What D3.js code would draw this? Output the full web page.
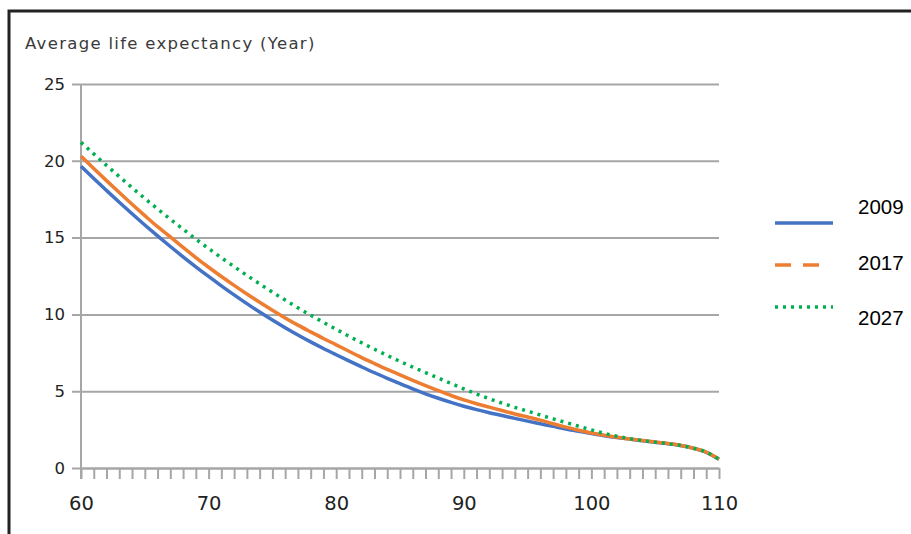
<!DOCTYPE html>
<html>
<head>
<meta charset="utf-8">
<script src="https://cdn.jsdelivr.net/npm/d3@7"></script>
<style>
  body { margin: 0; background: #fff; }
  svg { display: block; }
</style>
</head>
<body>
<div id="chart"></div>
<script>
/**
 * DATA
 * */
const ages = d3.range(60, 111);

const e2009 = [19.65, 18.85, 18.07, 17.30, 16.55, 15.82, 15.11, 14.42, 13.75, 13.10,
  12.47, 11.86, 11.27, 10.70, 10.15, 9.63, 9.13, 8.66, 8.21, 7.78,
  7.37, 6.97, 6.58, 6.20, 5.84, 5.49, 5.15, 4.83, 4.54, 4.27,
  4.02, 3.80, 3.60, 3.42, 3.23, 3.05, 2.88, 2.71, 2.54, 2.39,
  2.24, 2.10, 1.98, 1.88, 1.78, 1.68, 1.58, 1.46, 1.28, 1.02, 0.57];

const e2017 = [20.30, 19.50, 18.71, 17.93, 17.17, 16.43, 15.71, 15.05, 14.36, 13.70,
  13.07, 12.47, 11.89, 11.33, 10.79, 10.27, 9.77, 9.30, 8.86, 8.43,
  8.02, 7.60, 7.19, 6.80, 6.42, 6.06, 5.71, 5.37, 5.04, 4.72,
  4.43, 4.18, 3.96, 3.74, 3.52, 3.32, 3.12, 2.88, 2.66, 2.46,
  2.28, 2.13, 2.00, 1.89, 1.79, 1.69, 1.59, 1.47, 1.29, 1.03, 0.57];

const e2027 = [21.20, 20.45, 19.70, 18.97, 18.25, 17.55, 16.87, 16.20, 15.55, 14.90,
  14.29, 13.69, 13.11, 12.54, 11.99, 11.45, 10.93, 10.43, 9.95, 9.48,
  9.03, 8.58, 8.15, 7.73, 7.33, 6.94, 6.57, 6.21, 5.86, 5.50,
  5.15, 4.82, 4.51, 4.22, 3.95, 3.70, 3.45, 3.20, 2.96, 2.72,
  2.48, 2.26, 2.07, 1.91, 1.78, 1.68, 1.58, 1.46, 1.29, 1.04, 0.57];

const seriesNames = ["2009", "2017", "2027"];
const xTicks = [60, 70, 80, 90, 100, 110];
const yTicks = [0, 5, 10, 15, 20, 25];
const yTitle = "Average life expectancy (Year)";

/**
 * CONSTANTS
 * */
const width = 911,
  height = 534,
  margin = { top: 84, bottom: 66, left: 81, right: 192 };

const colors = ["#4472C4", "#ED7D31", "#00B050"];
const gridColor = "#a6a6a6";

const svg = d3.select("#chart")
  .append("svg")
  .attr("width", width)
  .attr("height", height);

// frame (top and left edges only are visible)
svg.append("path")
  .attr("d", `M9,${height} V11 H${width}`)
  .attr("fill", "none")
  .attr("stroke", "#222")
  .attr("stroke-width", 3);

const x = d3.scaleLinear()
  .domain([60, 110])
  .range([margin.left, width - margin.right]);

const y = d3.scaleLinear()
  .domain([0, 25])
  .range([height - margin.bottom, margin.top]);

// title
svg.append("text")
  .attr("x", 25)
  .attr("y", 49)
  .attr("font-family", "DejaVu Sans, Verdana, sans-serif")
  .attr("font-size", 16.5)
  .attr("letter-spacing", 1.3)
  .attr("fill", "#3a3a3a")
  .text(yTitle);

// gridlines + y ticks
const yAxis = svg.append("g")
  .attr("transform", `translate(${margin.left},0)`)
  .call(d3.axisLeft(y)
    .tickValues(yTicks)
    .tickSize(-(width - margin.left - margin.right))
    .tickSizeOuter(0)
    .tickPadding(16));

yAxis.select(".domain").remove();
yAxis.selectAll(".tick line")
  .attr("x1", -9)
  .attr("stroke", gridColor)
  .attr("stroke-width", 2);
yAxis.selectAll(".tick text")
  .attr("font-family", "DejaVu Sans, Verdana, sans-serif")
  .attr("font-size", 16.5)
  .attr("fill", "#222");

// vertical axis line
svg.append("line")
  .attr("x1", margin.left).attr("x2", margin.left)
  .attr("y1", margin.top).attr("y2", y(0) + 11)
  .attr("stroke", gridColor)
  .attr("stroke-width", 2);

// x axis: minor ticks every year, labels every 10
const xAxis = svg.append("g")
  .attr("transform", `translate(0,${y(0)})`)
  .call(d3.axisBottom(x)
    .tickValues(ages)
    .tickSize(11)
    .tickSizeOuter(0)
    .tickFormat(d => xTicks.includes(d) ? d : ""));

xAxis.select(".domain")
  .attr("stroke", gridColor)
  .attr("stroke-width", 2);
xAxis.selectAll(".tick line")
  .attr("stroke", gridColor)
  .attr("stroke-width", 2);
xAxis.selectAll(".tick text")
  .attr("font-family", "DejaVu Sans, Verdana, sans-serif")
  .attr("font-size", 19.5)
  .attr("fill", "#222")
  .attr("dy", "1.45em");

// lines
const line = d3.line()
  .x((d, i) => x(ages[i]))
  .y(d => y(d))
  .curve(d3.curveMonotoneX);

const allSeries = [e2009, e2017, e2027];

svg.append("g")
  .selectAll("path")
  .data(allSeries)
  .join("path")
  .attr("d", line)
  .attr("fill", "none")
  .attr("stroke", (d, i) => colors[i])
  .attr("stroke-width", 3.5)
  .attr("stroke-dasharray", (d, i) => i === 2 ? "3 5" : null);

// legend
const legend = svg.append("g")
  .selectAll("g")
  .data(seriesNames)
  .join("g");

const legendLineY = [223, 265, 307];
const legendTextY = [207, 263, 318];

legend.append("line")
  .attr("x1", 775)
  .attr("x2", (d, i) => i === 1 ? 820 : 833)
  .attr("y1", (d, i) => legendLineY[i])
  .attr("y2", (d, i) => legendLineY[i])
  .attr("stroke", (d, i) => colors[i])
  .attr("stroke-width", 3.5)
  .attr("stroke-dasharray", (d, i) => i === 1 ? "16 12" : i === 2 ? "3 5" : null);

legend.append("text")
  .attr("x", 858)
  .attr("y", (d, i) => legendTextY[i])
  .attr("dy", "0.35em")
  .attr("font-family", "Liberation Sans, Arial, sans-serif")
  .attr("font-size", 20.5)
  .attr("fill", "#000")
  .text(d => d);
</script>
</body>
</html>
